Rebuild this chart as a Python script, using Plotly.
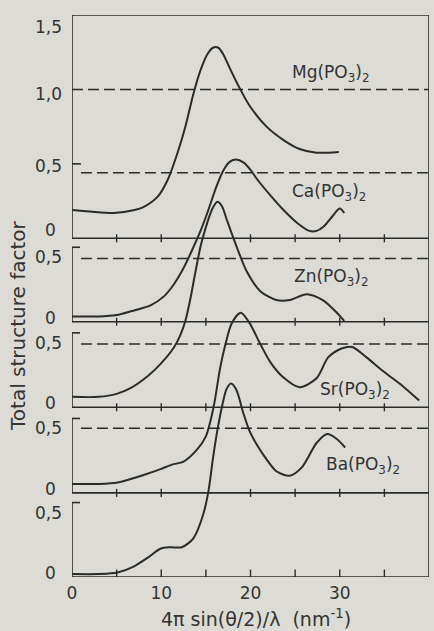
import plotly.graph_objects as go

# ---------------- data ----------------
names = ["Mg(PO<sub>3</sub>)<sub>2</sub>", "Ca(PO<sub>3</sub>)<sub>2</sub>",
         "Zn(PO<sub>3</sub>)<sub>2</sub>", "Sr(PO<sub>3</sub>)<sub>2</sub>",
         "Ba(PO<sub>3</sub>)<sub>2</sub>"]

# vertical offset of each curve's zero line (stacked plot)
offsets = [2.275, 1.715, 1.14, 0.565, 0.0]

x_mg = [0, 2, 4.7, 7, 8, 9.6, 10.7, 11.8, 12.7, 13.6, 14.4, 15.2, 15.8, 16.4,
        17.0, 17.7, 18.6, 19.9, 21.8, 23.7, 25.5, 27.4, 29.9]
s_mg = [0.19, 0.18, 0.17, 0.19, 0.21, 0.28, 0.39, 0.57, 0.75, 0.97, 1.13, 1.24,
        1.28, 1.28, 1.23, 1.14, 1.03, 0.89, 0.75, 0.66, 0.60, 0.575, 0.58]

x_ca = [0, 3, 5, 6.6, 8.8, 10.3, 11.4, 12.5, 13.6, 14.4, 15.1, 16.2, 17.0, 17.7,
        18.4, 19.2, 20.0, 20.7, 22.2, 23.7, 25.2, 26.6, 27.4, 28.2, 29.2, 30.0,
        30.5]
s_ca = [0.035, 0.035, 0.045, 0.07, 0.11, 0.17, 0.25, 0.36, 0.50, 0.61, 0.72, 0.91,
        1.02, 1.075, 1.09, 1.07, 1.02, 0.96, 0.85, 0.75, 0.665, 0.61, 0.61, 0.64,
        0.71, 0.76, 0.73]

x_zn = [0, 3, 5, 6.6, 8.5, 9.9, 11.4, 12.1, 12.7, 13.3, 13.8, 14.4, 14.9, 15.7,
        16.3, 16.8, 17.4, 18.5, 19.6, 21.1, 22.9, 24.4, 26.3, 28.1, 29.6, 30.5]
s_zn = [0.07, 0.07, 0.09, 0.13, 0.21, 0.29, 0.40, 0.48, 0.58, 0.74, 0.90, 1.08,
        1.19, 1.33, 1.38, 1.35, 1.25, 1.07, 0.91, 0.78, 0.72, 0.72, 0.76, 0.72,
        0.64, 0.58]

x_sr = [0, 3, 5.1, 8, 9.9, 11.2, 12.5, 14.0, 15.0, 15.5, 16.0, 16.6, 17.2, 17.9,
        18.9, 19.8, 21.1, 22.2, 23.6, 25.5, 27.4, 28.7, 30.2, 31.4, 33.0, 34.8,
        37.0, 38.9]
s_sr = [0.06, 0.06, 0.07, 0.12, 0.16, 0.19, 0.21, 0.29, 0.38, 0.48, 0.62, 0.84,
        1.0, 1.14, 1.21, 1.15, 1.0, 0.88, 0.78, 0.71, 0.77, 0.91, 0.97, 0.98,
        0.91, 0.82, 0.72, 0.62]

x_ba = [0, 3, 5.1, 6.9, 8.5, 9.9, 11.0, 12.3, 13.6, 14.7, 15.3, 15.8, 16.3, 16.9,
        17.3, 17.8, 18.4, 19.2, 19.9, 20.8, 21.8, 22.9, 24.4, 25.8, 27.4, 28.6,
        29.6, 30.6]
s_ba = [0.02, 0.02, 0.03, 0.07, 0.13, 0.19, 0.20, 0.20, 0.26, 0.42, 0.58, 0.80,
        0.99, 1.17, 1.26, 1.30, 1.26, 1.10, 0.98, 0.88, 0.79, 0.71, 0.68, 0.74,
        0.90, 0.96, 0.93, 0.87]

xs = [x_mg, x_ca, x_zn, x_sr, x_ba]
ss = [s_mg, s_ca, s_zn, s_sr, s_ba]

x_ticklabels = [0, 10, 20, 30, 40]
# minor tick marks present on each panel's baseline
panel_ticks = [
    [5, 10, 20, 25, 30, 35],
    [5, 10, 15, 25, 30, 35],
    [5, 10, 15, 20, 25, 30, 35],
    [5, 10, 20, 25, 30, 35],
    [5, 10, 15, 20, 25, 30, 35],
]
top_panel_labels = ["0", "0,5", "1,0", "1,5"]
top_panel_vals = [0, 0.5, 1.0, 1.5]

# ---------------- styling ----------------
BG = "#dcdbd5"
INK = "#2b2b2b"
TXT = "#333333"
FONT = "DejaVu Sans"
XMAX = 40
TOP = offsets[0] + 1.5

fig = go.Figure()

for xv, sv, off in zip(xs, ss, offsets):
    fig.add_trace(go.Scatter(
        x=xv, y=[off + s for s in sv], mode="lines",
        line=dict(color=INK, width=2, shape="spline", smoothing=0.8),
        showlegend=False, hoverinfo="skip"))

shapes = []
def seg(x0, y0, x1, y1, w=1.6, dash=None):
    ln = dict(color=INK, width=w)
    if dash:
        ln["dash"] = dash
    shapes.append(dict(type="line", xref="x", yref="y", x0=x0, y0=y0,
                       x1=x1, y1=y1, line=ln, layer="below"))

# frame
seg(0, TOP, XMAX, TOP)
seg(XMAX, 0, XMAX, TOP)
seg(0, offsets[0], 0, TOP)
seg(0, offsets[0] + 0.5, 1.0, offsets[0] + 0.5)
# lower panel brackets
for off in offsets[1:]:
    seg(0, off, 0, off + 0.5)
    seg(0, off + 0.5, 0.9, off + 0.5)
# baselines with tick marks
for i, off in enumerate(offsets):
    seg(0, off, XMAX, off)
    for t in panel_ticks[i]:
        if i < len(offsets) - 1:
            seg(t, off - 0.027, t, off + 0.027, w=1.4)
        else:
            seg(t, off, t, off + 0.05, w=1.4)
# dashed S=1 lines
for i, off in enumerate(offsets):
    seg(0 if i == 0 else 1.0, off + 1.0, XMAX, off + 1.0, w=1.5, dash="11px,5px")

ann = []
# curve labels (left x, centre y relative to own zero line)
label_pos = [(24.4, 1.11), (24.4, 0.87), (24.6, 0.875), (27.6, 0.69), (28.2, 0.75)]
for name, off, (lx, ly) in zip(names, offsets, label_pos):
    ann.append(dict(x=lx, y=off + ly, xref="x", yref="y", text=name,
                    showarrow=False, xanchor="left", yanchor="middle",
                    font=dict(family=FONT, size=17, color=TXT)))

# y tick labels
def ylab(text, yv, shift, zero=False):
    ann.append(dict(x=(50 - 72) / 357 if zero else (64 - 72) / 357, y=yv,
                    xref="paper", yref="y", text=text, showarrow=False,
                    xanchor="center" if zero else "right", yanchor="middle",
                    yshift=shift, font=dict(family=FONT, size=17, color=TXT)))

top_shifts = [8, -2, -5, -12]
for lab, v, sh in zip(top_panel_labels, top_panel_vals, top_shifts):
    ylab(lab, offsets[0] + v, sh, zero=(lab == "0"))
for off in offsets[1:]:
    ylab("0", off, 4, zero=True)
    ylab("0,5", off + 0.5, -10)

# axis titles
ann.append(dict(x=(256 - 72) / 357, y=-(618 - 577) / 562, xref="paper", yref="paper",
                text="4π sin(θ/2)/λ  (nm<sup>-1</sup>)", showarrow=False,
                xanchor="center", yanchor="middle",
                font=dict(family=FONT, size=19, color=TXT)))
ann.append(dict(x=(18 - 72) / 357, y=(577 - 326) / 562, xref="paper", yref="paper",
                text="Total structure factor", showarrow=False, textangle=-90,
                xanchor="center", yanchor="middle",
                font=dict(family=FONT, size=20, color=TXT)))

fig.update_layout(
    width=434, height=631,
    margin=dict(l=72, r=5, t=15, b=54),
    paper_bgcolor=BG, plot_bgcolor=BG,
    shapes=shapes, annotations=ann,
    xaxis=dict(range=[0, XMAX], showgrid=False, zeroline=False, showline=False,
               tickvals=x_ticklabels, ticks="", ticklabelstandoff=4,
               tickfont=dict(family=FONT, size=17, color=TXT), fixedrange=True),
    yaxis=dict(range=[0, TOP], visible=False, fixedrange=True),
)

fig.write_html("out.html")
